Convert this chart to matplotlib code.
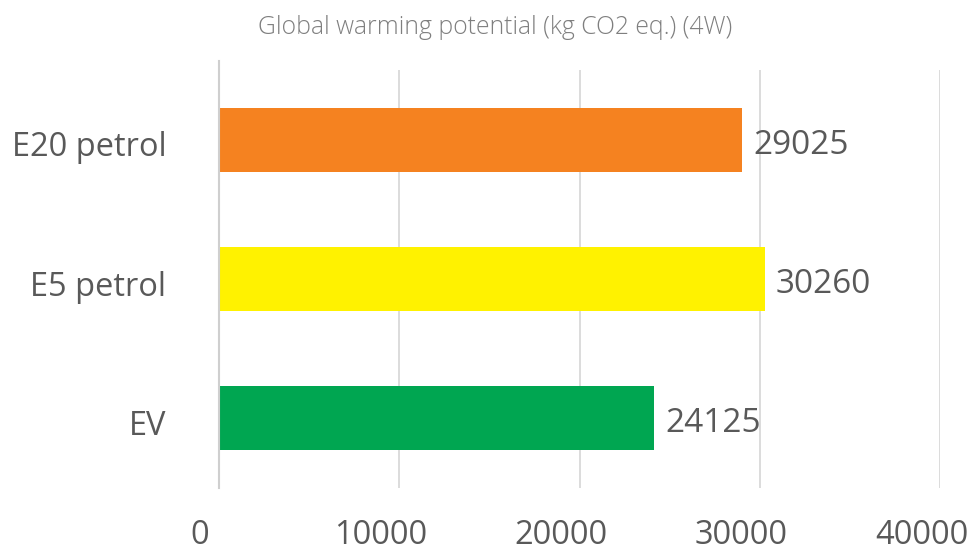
import matplotlib
matplotlib.use("Agg")
from matplotlib import pyplot as plt
from matplotlib import transforms as mtrans

categories = ["EV", "E5 petrol", "E20 petrol"]
values = [24125, 30260, 29025]
bar_colors = ["#00A651", "#FFF200", "#F58220"]
x_ticks = [0, 10000, 20000, 30000, 40000]
title = "Global warming potential (kg CO2 eq.) (4W)"

TEXT_GRAY = "#595959"
GRID_GRAY = "#d9d9d9"

plt.rcParams["font.family"] = ["Open Sans", "DejaVu Sans"]

fig = plt.figure(figsize=(9.71, 5.54), dpi=100)
ax = fig.add_axes([0.2255, 0.1191, 0.743, 0.7545])

bars = ax.barh(categories, values, height=0.46, color=bar_colors, zorder=2)
for i, v in enumerate(values):
    ax.annotate(str(v), xy=(v, i), xytext=(8, -4), textcoords="offset points",
                ha="left", va="center", fontsize=24, color=TEXT_GRAY)

ax.set_xlim(0, 40000)
ax.set_ylim(-0.5, 2.5)
ax.set_xticks(x_ticks)
ax.set_xticklabels([str(t) for t in x_ticks])
ax.grid(axis="x", color=GRID_GRAY, linewidth=1.3, zorder=0)
ax.grid(axis="y", visible=False)

for side in ["top", "right", "bottom"]:
    ax.spines[side].set_visible(False)
ax.spines["left"].set_color("#cfcfcf")
ax.spines["left"].set_linewidth(1.5)
ax.spines["left"].set_bounds(-0.5, 2.565)
ax.spines["left"].set_zorder(3)

ax.tick_params(axis="x", length=0, pad=22, labelsize=23.5, labelcolor=TEXT_GRAY)
ax.tick_params(axis="y", length=0, pad=38, labelsize=23.5, labelcolor=TEXT_GRAY)

# excel draws the value axis labels a bit to the left of the gridlines
shift = mtrans.ScaledTranslation(-19 / 100, 0, fig.dpi_scale_trans)
for lbl in ax.get_xticklabels():
    lbl.set_transform(lbl.get_transform() + shift)
down = mtrans.ScaledTranslation(0, -4 / 100, fig.dpi_scale_trans)
for lbl in ax.get_yticklabels():
    lbl.set_transform(lbl.get_transform() + down)

fig.text(495 / 971, 1 - 27 / 554, title, ha="center", va="center",
         fontsize=17.8, color="#7f7f7f", fontweight="light")

fig.savefig("out.png", dpi=100)
